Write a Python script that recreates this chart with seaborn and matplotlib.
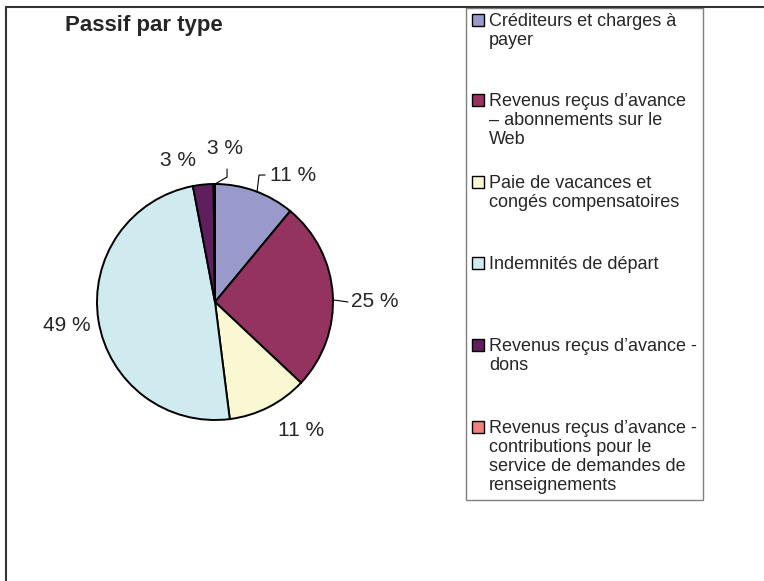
import matplotlib
matplotlib.use("Agg")
import matplotlib.pyplot as plt
import seaborn as sns
from matplotlib.lines import Line2D
from matplotlib.patches import Rectangle

categories = [
    "Créditeurs et charges à\npayer",
    "Revenus reçus d’avance\n– abonnements sur le\nWeb",
    "Paie de vacances et\ncongés compensatoires",
    "Indemnités de départ",
    "Revenus reçus d’avance -\ndons",
    "Revenus reçus d’avance -\ncontributions pour le\nservice de demandes de\nrenseignements",
]
shares = [11, 26, 11, 49, 2.8, 0.2]
share_labels = ["11 %", "25 %", "11 %", "49 %", "3 %", "3 %"]
colors = ["#9999CC", "#953360", "#FAF8D2", "#CFEBF0", "#5F1F5F", "#F08080"]

sns.set_style("white")
plt.rcParams["font.family"] = ["Liberation Sans", "DejaVu Sans"]

W, H = 764, 581
fig = plt.figure(figsize=(W / 100, H / 100), dpi=100)


def fx(px):
    return px / W


def fy(py):
    return 1 - py / H


# pie axes: centre (215, 302) px, radius 118 px
R = 118
L = 1.7
ax = fig.add_axes([fx(215 - L * R), fy(302 + L * R), 2 * L * R / W, 2 * L * R / H])
ax.pie(shares, colors=colors, startangle=90, counterclock=False,
       wedgeprops=dict(edgecolor="black", linewidth=1.4))
ax.set_xlim(-L, L)
ax.set_ylim(-L, L)
ax.set_aspect("equal")
ax.axis("off")

# label positions (data units, radius = 1)
label_pos = [(0.66, 1.076), (1.356, 0.008), (0.729, -1.093),
             (-1.254, -0.195), (-0.314, 1.203), (0.085, 1.305)]
for txt, (x, y) in zip(share_labels, label_pos):
    ax.text(x, y, txt, fontsize=15, ha="center", va="center")

# leader lines
leaders = [
    ([0.356, 0.373, 0.424], [0.932, 1.076, 1.076]),
    ([1.008, 1.127], [0.017, 0.0]),
    ([0.0, 0.102, 0.102], [1.0, 1.059, 1.127]),
]
for xs, ys in leaders:
    ax.plot(xs, ys, color="black", lw=0.8)

# title
fig.text(fx(65), fy(26), "Passif par type", fontsize=16, fontweight="bold",
         ha="left", va="center")

# chart frame (top and left edges visible)
fig.add_artist(Line2D([fx(6), fx(6)], [fy(7), 0], transform=fig.transFigure,
                      color="#333333", lw=1.5))
fig.add_artist(Line2D([fx(6), 1], [fy(7), fy(7)], transform=fig.transFigure,
                      color="#333333", lw=1.5))

# legend box
fig.add_artist(Rectangle((fx(466), fy(500)), fx(703) - fx(466), fy(8) - fy(500),
                         transform=fig.transFigure, facecolor="white",
                         edgecolor="#808080", lw=1.0))
entry_y = [20, 100, 182, 263, 345, 427]
for lab, col, y in zip(categories, colors, entry_y):
    fig.add_artist(Rectangle((fx(472), fy(y + 6)), 12 / W, 12 / H,
                             transform=fig.transFigure, facecolor=col,
                             edgecolor="black", lw=1.0))
    fig.text(fx(489), fy(y - 7), lab, fontsize=13, ha="left", va="top",
             linespacing=1.15)

fig.savefig("out.png", dpi=100)
